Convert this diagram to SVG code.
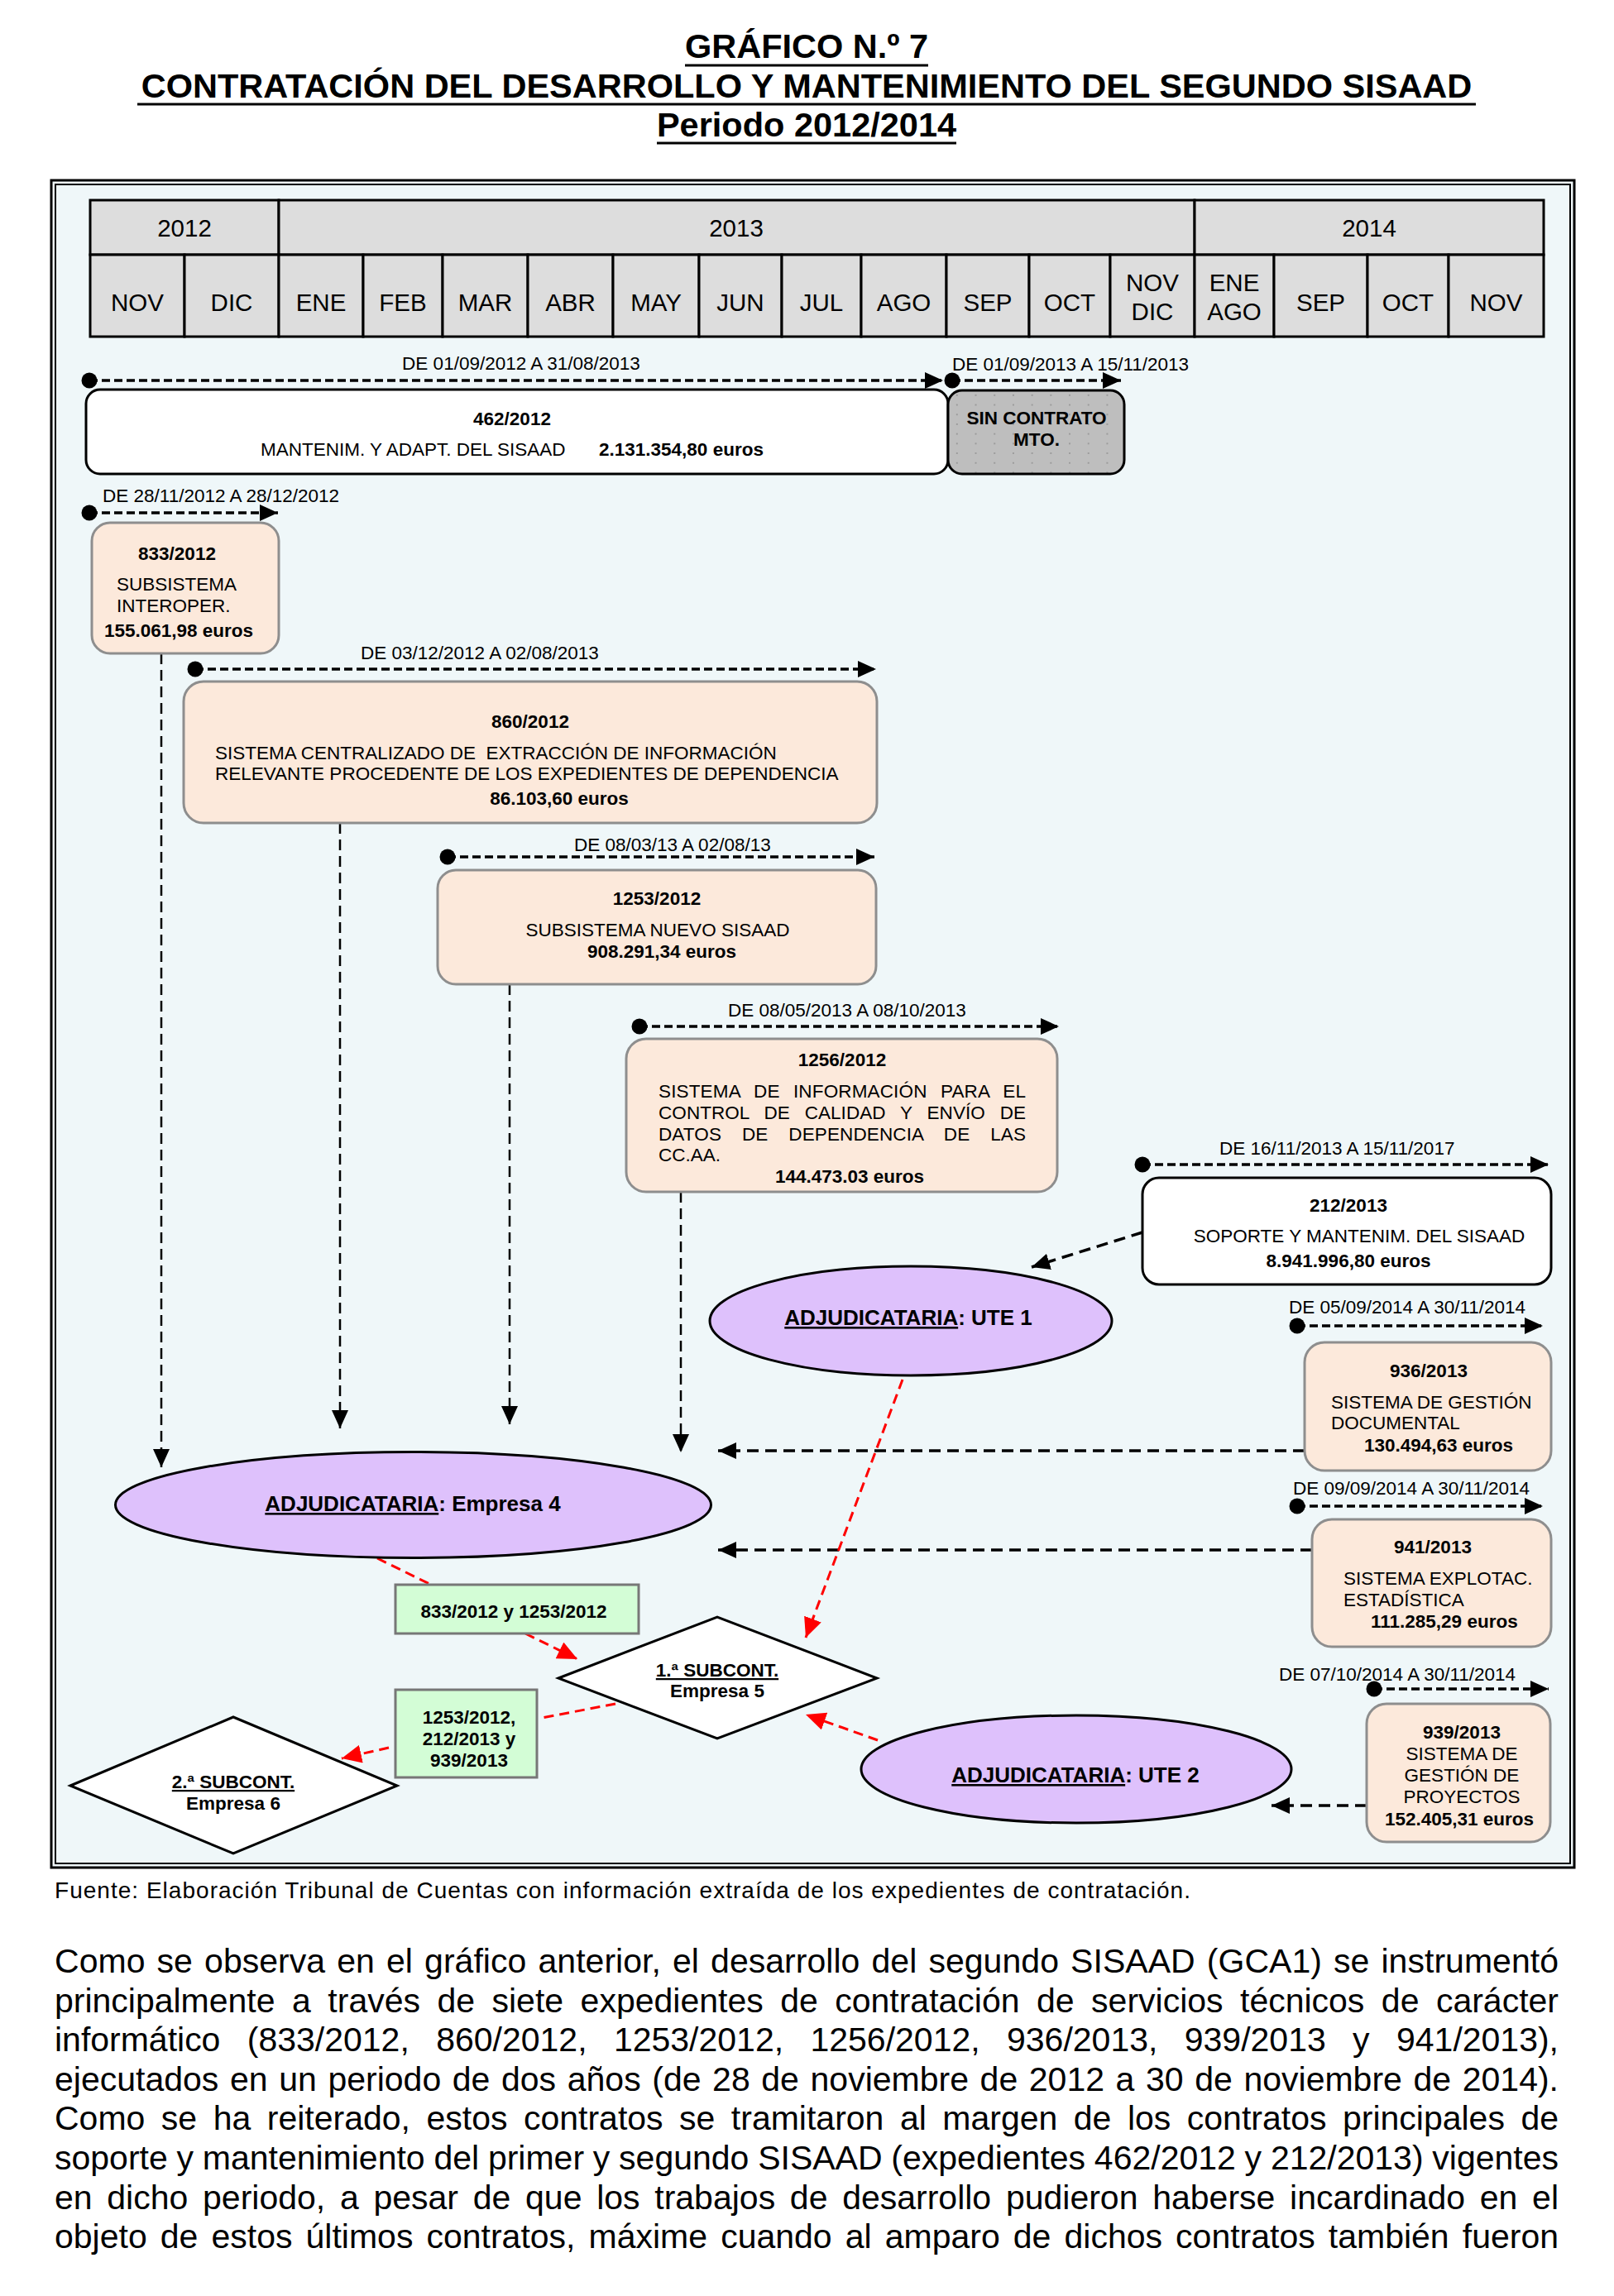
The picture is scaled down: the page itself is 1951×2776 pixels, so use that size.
<svg xmlns="http://www.w3.org/2000/svg" width="1951" height="2776" viewBox="0 0 1951 2776">
<style>
text { font-family: "Liberation Sans", Arial, sans-serif; fill:#000; }
.ttl { font-size:41.5px; font-weight:bold; text-anchor:middle; }
.hdr { font-size:29.5px; text-anchor:middle; }
.dt { font-size:22.5px; }
.bx { font-size:22.5px; }
.b { font-weight:bold; }
.m { text-anchor:middle; }
.el { font-size:26px; font-weight:bold; text-anchor:middle; }
.body { font-size:41px; }
.cell { fill:#DDDDDD; stroke:#000; stroke-width:3; }
.peach { fill:#FCE9DB; stroke:#8E8E8E; stroke-width:3; }
.wbox { fill:#FFFFFF; stroke:#000; stroke-width:3; }
.ell { fill:#DEC1FC; stroke:#000; stroke-width:3; }
.dia { fill:#FFFFFF; stroke:#000; stroke-width:3; }
.grn { fill:#D3FDD6; stroke:#777; stroke-width:3; }
.tl { fill:none; stroke:#000; stroke-width:3.5; stroke-dasharray:10 5; marker-start:url(#dot); marker-end:url(#ah); }
.cv { fill:none; stroke:#000; stroke-width:2.5; stroke-dasharray:13 7; marker-end:url(#ah); }
.ch { fill:none; stroke:#000; stroke-width:3.5; stroke-dasharray:14 8; marker-end:url(#ah); }
.cr { fill:none; stroke:#FF0000; stroke-width:3; stroke-dasharray:12 7; }
.cra { fill:none; stroke:#FF0000; stroke-width:3; stroke-dasharray:12 7; marker-end:url(#ahr); }
.ul { stroke:#000; stroke-width:3; }
</style>
<defs>
<marker id="ah" markerUnits="userSpaceOnUse" viewBox="0 0 22 20" markerWidth="22" markerHeight="20" refX="22" refY="10" orient="auto">
<path d="M0,0 L22,10 L0,20 z" fill="#000"/>
</marker>
<marker id="ahr" markerUnits="userSpaceOnUse" viewBox="0 0 24 22" markerWidth="24" markerHeight="22" refX="24" refY="11" orient="auto">
<path d="M0,0 L24,11 L0,22 z" fill="#FF0000"/>
</marker>
<marker id="dot" markerUnits="userSpaceOnUse" viewBox="0 0 20 20" markerWidth="20" markerHeight="20" refX="10" refY="10">
<circle cx="10" cy="10" r="9.5" fill="#000"/>
</marker>
<pattern id="dots" patternUnits="userSpaceOnUse" width="22.7" height="11.7" x="1146" y="472">
<rect width="22.7" height="11.7" fill="#BEBEBE"/>
<rect x="10" y="5" width="1.6" height="1.6" fill="#8A8A8A"/>
</pattern>
</defs>

<rect width="1951" height="2776" fill="#FFFFFF"/>

<g id="title">
<text class="ttl" x="975" y="70">GRÁFICO N.º 7</text>
<line class="ul" x1="828" y1="79" x2="1122" y2="79"/>
<text class="ttl" x="975" y="118">CONTRATACIÓN DEL DESARROLLO Y MANTENIMIENTO DEL SEGUNDO SISAAD</text>
<line class="ul" x1="166" y1="126" x2="1784" y2="126"/>
<text class="ttl" x="975" y="165">Periodo 2012/2014</text>
<line class="ul" x1="794" y1="173" x2="1156" y2="173"/>
</g>

<g id="frame">
<rect x="62" y="218" width="1841" height="2040" fill="#EFF7F9" stroke="#000" stroke-width="3"/>
<rect x="67" y="223" width="1831" height="2030" fill="none" stroke="#000" stroke-width="2"/>
</g>

<g id="header">
<rect class="cell" x="109" y="242" width="228" height="66"/>
<rect class="cell" x="337" y="242" width="1107" height="66"/>
<rect class="cell" x="1444" y="242" width="422" height="66"/>
<text class="hdr" x="223" y="286">2012</text>
<text class="hdr" x="890" y="286">2013</text>
<text class="hdr" x="1655" y="286">2014</text>
<rect class="cell" x="109" y="308" width="114" height="99"/>
<rect class="cell" x="223" y="308" width="114" height="99"/>
<rect class="cell" x="337" y="308" width="102" height="99"/>
<rect class="cell" x="439" y="308" width="96" height="99"/>
<rect class="cell" x="535" y="308" width="103" height="99"/>
<rect class="cell" x="638" y="308" width="103" height="99"/>
<rect class="cell" x="741" y="308" width="104" height="99"/>
<rect class="cell" x="845" y="308" width="100" height="99"/>
<rect class="cell" x="945" y="308" width="96" height="99"/>
<rect class="cell" x="1041" y="308" width="103" height="99"/>
<rect class="cell" x="1144" y="308" width="100" height="99"/>
<rect class="cell" x="1244" y="308" width="98" height="99"/>
<rect class="cell" x="1342" y="308" width="102" height="99"/>
<rect class="cell" x="1444" y="308" width="96" height="99"/>
<rect class="cell" x="1540" y="308" width="113" height="99"/>
<rect class="cell" x="1653" y="308" width="98" height="99"/>
<rect class="cell" x="1751" y="308" width="115" height="99"/>
<text class="hdr" x="166" y="376">NOV</text>
<text class="hdr" x="280" y="376">DIC</text>
<text class="hdr" x="388" y="376">ENE</text>
<text class="hdr" x="487" y="376">FEB</text>
<text class="hdr" x="586.5" y="376">MAR</text>
<text class="hdr" x="689.5" y="376">ABR</text>
<text class="hdr" x="793" y="376">MAY</text>
<text class="hdr" x="895" y="376">JUN</text>
<text class="hdr" x="993" y="376">JUL</text>
<text class="hdr" x="1092.5" y="376">AGO</text>
<text class="hdr" x="1194" y="376">SEP</text>
<text class="hdr" x="1293" y="376">OCT</text>
<text class="hdr" x="1393" y="352">NOV</text>
<text class="hdr" x="1393" y="387">DIC</text>
<text class="hdr" x="1492" y="352">ENE</text>
<text class="hdr" x="1492" y="387">AGO</text>
<text class="hdr" x="1596.5" y="376">SEP</text>
<text class="hdr" x="1702" y="376">OCT</text>
<text class="hdr" x="1808.5" y="376">NOV</text>
</g>

<g id="date-labels">
<text class="dt m" x="630" y="447">DE 01/09/2012 A 31/08/2013</text>
<text class="dt" x="1151" y="448">DE 01/09/2013 A 15/11/2013</text>
<text class="dt" x="124" y="607">DE 28/11/2012 A 28/12/2012</text>
<text class="dt" x="436" y="797">DE 03/12/2012 A 02/08/2013</text>
<text class="dt" x="694" y="1029">DE 08/03/13 A 02/08/13</text>
<text class="dt" x="880" y="1229">DE 08/05/2013 A 08/10/2013</text>
<text class="dt" x="1474" y="1396">DE 16/11/2013 A 15/11/2017</text>
<text class="dt" x="1558" y="1588">DE 05/09/2014 A 30/11/2014</text>
<text class="dt" x="1563" y="1807">DE 09/09/2014 A 30/11/2014</text>
<text class="dt" x="1546" y="2032">DE 07/10/2014 A 30/11/2014</text>
</g>

<g id="connectors">
<path class="tl" d="M108,460 H1140"/>
<path class="tl" d="M1151,460 H1355"/>
<path class="tl" d="M108,620 H336"/>
<path class="tl" d="M236,809 H1059"/>
<path class="tl" d="M541,1036 H1057"/>
<path class="tl" d="M773,1241 H1280"/>
<path class="tl" d="M1381,1408 H1872"/>
<path class="tl" d="M1568,1603 H1865"/>
<path class="tl" d="M1568,1821 H1865"/>
<path class="tl" d="M1661,2042 H1872"/>
<path class="cv" d="M195,790 V1774"/>
<path class="cv" d="M411,995 V1727"/>
<path class="cv" d="M616,1190 V1722"/>
<path class="cv" d="M823,1441 V1756"/>
<path class="ch" d="M1577,1754 H868"/>
<path class="ch" d="M1586,1874 H868"/>
<path class="ch" d="M1652,2183 H1537"/>
<path class="ch" d="M1381,1490 L1247,1532"/>
<path class="cra" d="M1091,1668 L974,1980"/>
<path class="cr" d="M456,1884 L519,1915"/>
<path class="cra" d="M635,1975 L698,2006"/>
<path class="cra" d="M1061,2104 L974,2073"/>
<path class="cr" d="M744,2060 L655,2077"/>
<path class="cra" d="M470,2113 L413,2126"/>
</g>

<g id="n462">
<rect class="wbox" x="104" y="471" width="1042" height="102" rx="17"/>
<text class="bx b m" x="619" y="514">462/2012</text>
<text class="bx" x="315" y="551">MANTENIM. Y ADAPT. DEL SISAAD</text>
<text class="bx b" x="724" y="551">2.131.354,80 euros</text>
</g>

<g id="nSinContrato">
<rect x="1146" y="472" width="213" height="101" rx="17" fill="url(#dots)" stroke="#000" stroke-width="3"/>
<text class="bx b m" x="1253" y="513" fill="#222">SIN CONTRATO</text>
<text class="bx b m" x="1253" y="539" fill="#222">MTO.</text>
</g>

<g id="n833">
<rect class="peach" x="111" y="632" width="226" height="158" rx="22"/>
<text class="bx b m" x="214" y="677">833/2012</text>
<text class="bx" x="141" y="714">SUBSISTEMA</text>
<text class="bx" x="141" y="740">INTEROPER.</text>
<text class="bx b m" x="216" y="770">155.061,98 euros</text>
</g>

<g id="n860">
<rect class="peach" x="222" y="824" width="838" height="171" rx="24"/>
<text class="bx b m" x="641" y="880">860/2012</text>
<text class="bx" x="260" y="918" xml:space="preserve">SISTEMA CENTRALIZADO DE  EXTRACCIÓN DE INFORMACIÓN</text>
<text class="bx" x="260" y="943">RELEVANTE PROCEDENTE DE LOS EXPEDIENTES DE DEPENDENCIA</text>
<text class="bx b m" x="676" y="973">86.103,60 euros</text>
</g>

<g id="n1253">
<rect class="peach" x="529" y="1052" width="530" height="138" rx="22"/>
<text class="bx b m" x="794" y="1094">1253/2012</text>
<text class="bx m" x="795" y="1132">SUBSISTEMA NUEVO SISAAD</text>
<text class="bx b m" x="800" y="1158">908.291,34 euros</text>
</g>

<g id="n1256">
<rect class="peach" x="757" y="1256" width="521" height="185" rx="24"/>
<text class="bx b m" x="1018" y="1289">1256/2012</text>
<text class="bx" x="796" y="1327" word-spacing="10" textLength="444" lengthAdjust="spacing">SISTEMA DE INFORMACIÓN PARA EL</text>
<text class="bx" x="796" y="1353" word-spacing="11.5" textLength="444" lengthAdjust="spacing">CONTROL DE CALIDAD Y ENVÍO DE</text>
<text class="bx" x="796" y="1379" word-spacing="18.5" textLength="444" lengthAdjust="spacing">DATOS DE DEPENDENCIA DE LAS</text>
<text class="bx" x="796" y="1404">CC.AA.</text>
<text class="bx b m" x="1027" y="1430">144.473.03 euros</text>
</g>

<g id="n212">
<rect class="wbox" x="1381" y="1424" width="494" height="129" rx="20"/>
<text class="bx b m" x="1630" y="1465">212/2013</text>
<text class="bx m" x="1643" y="1502">SOPORTE Y MANTENIM. DEL SISAAD</text>
<text class="bx b m" x="1630" y="1532">8.941.996,80 euros</text>
</g>

<g id="nUTE1">
<ellipse class="ell" cx="1101" cy="1597" rx="243" ry="66"/>
<text class="el" x="1098" y="1602"><tspan text-decoration="underline">ADJUDICATARIA</tspan>: UTE 1</text>
</g>

<g id="n936">
<rect class="peach" x="1577" y="1623" width="298" height="155" rx="24"/>
<text class="bx b m" x="1727" y="1665">936/2013</text>
<text class="bx" x="1609" y="1703">SISTEMA DE GESTIÓN</text>
<text class="bx" x="1609" y="1728">DOCUMENTAL</text>
<text class="bx b" x="1649" y="1755">130.494,63 euros</text>
</g>

<g id="n941">
<rect class="peach" x="1586" y="1837" width="289" height="154" rx="24"/>
<text class="bx b m" x="1732" y="1878">941/2013</text>
<text class="bx" x="1624" y="1916">SISTEMA EXPLOTAC.</text>
<text class="bx" x="1624" y="1942">ESTADÍSTICA</text>
<text class="bx b" x="1657" y="1968">111.285,29 euros</text>
</g>

<g id="nEmpresa4">
<ellipse class="ell" cx="499.5" cy="1819.5" rx="360" ry="64"/>
<text class="el" x="499" y="1827"><tspan text-decoration="underline">ADJUDICATARIA</tspan>: Empresa 4</text>
</g>

<g id="nGreen1">
<rect class="grn" x="478" y="1916" width="294" height="59"/>
<text class="bx b m" x="621" y="1956">833/2012 y 1253/2012</text>
</g>

<g id="nSubcont1">
<polygon class="dia" points="675,2029 867,1955 1060,2029 867,2102"/>
<text class="bx b m" x="867" y="2027" text-decoration="underline">1.ª SUBCONT.</text>
<text class="bx b m" x="867" y="2052">Empresa 5</text>
</g>

<g id="nGreen2">
<rect class="grn" x="478" y="2043" width="171" height="106"/>
<text class="bx b m" x="567" y="2084">1253/2012,</text>
<text class="bx b m" x="567" y="2110">212/2013 y</text>
<text class="bx b m" x="567" y="2136">939/2013</text>
</g>

<g id="nSubcont2">
<polygon class="dia" points="85,2159 282,2076 480,2159 282,2241"/>
<text class="bx b m" x="282" y="2162" text-decoration="underline">2.ª SUBCONT.</text>
<text class="bx b m" x="282" y="2188">Empresa 6</text>
</g>

<g id="nUTE2">
<ellipse class="ell" cx="1301" cy="2139" rx="260" ry="65"/>
<text class="el" x="1300" y="2155"><tspan text-decoration="underline">ADJUDICATARIA</tspan>: UTE 2</text>
</g>

<g id="n939">
<rect class="peach" x="1652" y="2060" width="222" height="167" rx="24"/>
<text class="bx b m" x="1767" y="2102">939/2013</text>
<text class="bx m" x="1767" y="2128">SISTEMA DE</text>
<text class="bx m" x="1767" y="2154">GESTIÓN DE</text>
<text class="bx m" x="1767" y="2180">PROYECTOS</text>
<text class="bx b m" x="1764" y="2207">152.405,31 euros</text>
</g>

<g id="footnote">
<text x="66" y="2295" font-size="28" textLength="1373" lengthAdjust="spacing">Fuente: Elaboración Tribunal de Cuentas con información extraída de los expedientes de contratación.</text>
</g>

<g id="paragraph">
<text class="body" x="66" y="2385" word-spacing="2.7" textLength="1818" lengthAdjust="spacing">Como se observa en el gráfico anterior, el desarrollo del segundo SISAAD (GCA1) se instrumentó</text>
<text class="body" x="66" y="2432.6" word-spacing="9.1" textLength="1818" lengthAdjust="spacing">principalmente a través de siete expedientes de contratación de servicios técnicos de carácter</text>
<text class="body" x="66" y="2480.2" word-spacing="21" textLength="1818" lengthAdjust="spacing">informático (833/2012, 860/2012, 1253/2012, 1256/2012, 936/2013, 939/2013 y 941/2013),</text>
<text class="body" x="66" y="2527.8" word-spacing="2.2" textLength="1818" lengthAdjust="spacing">ejecutados en un periodo de dos años (de 28 de noviembre de 2012 a 30 de noviembre de 2014).</text>
<text class="body" x="66" y="2575.4" word-spacing="8.1" textLength="1818" lengthAdjust="spacing">Como se ha reiterado, estos contratos se tramitaron al margen de los contratos principales de</text>
<text class="body" x="66" y="2623" word-spacing="-0.6" textLength="1818" lengthAdjust="spacing">soporte y mantenimiento del primer y segundo SISAAD (expedientes 462/2012 y 212/2013) vigentes</text>
<text class="body" x="66" y="2670.6" word-spacing="6.3" textLength="1818" lengthAdjust="spacing">en dicho periodo, a pesar de que los trabajos de desarrollo pudieron haberse incardinado en el</text>
<text class="body" x="66" y="2718.2" word-spacing="4.7" textLength="1818" lengthAdjust="spacing">objeto de estos últimos contratos, máxime cuando al amparo de dichos contratos también fueron</text>
</g>
</svg>
